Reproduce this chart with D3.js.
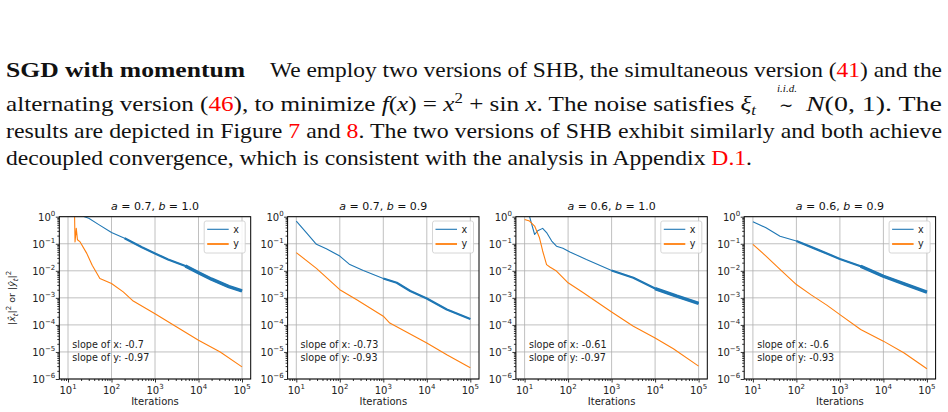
<!DOCTYPE html>
<html><head><meta charset="utf-8">
<script src="https://cdn.jsdelivr.net/npm/d3@7"></script>
<style>body{margin:0;background:#fff} svg{display:block}</style>
</head><body>
<svg id="fig" width="948" height="412"></svg>
<script>
// ---------------- data ----------------
const paramA = ["0.7", "0.7", "0.6", "0.6"];
const paramB = ["1.0", "0.9", "1.0", "0.9"];
const slopeX = ["-0.7", "-0.73", "-0.61", "-0.6"];
const slopeY = ["-0.97", "-0.93", "-0.97", "-0.93"];
const xTickExps = [1, 2, 3, 4, 5];
const yTickExps = [0, -1, -2, -3, -4, -5, -6];

const iterX1 = [10, 24, 30, 50, 100, 200, 500, 1000, 2000, 5000, 10000, 20000, 50000, 100000];
const valX1  = [2.3, 1.0, 0.87, 0.52, 0.26, 0.16, 0.074, 0.044, 0.026, 0.015, 0.0085, 0.0049, 0.0026, 0.0018];
const iterY1 = [10, 14, 14.5, 15.5, 16.5, 19, 27, 36, 45, 54, 100, 186, 316, 1000, 3160, 10000, 31600, 100000];
const valY1  = [10, 3.2, 0.117, 0.37, 0.14, 0.117, 0.044, 0.016, 0.0087, 0.0052, 0.0034, 0.00166, 0.00076, 0.00026, 0.000083, 0.000027, 0.00001, 0.0000028];

const iterX2 = [10, 17, 29, 49, 100, 170, 347, 1000, 2040, 4170, 10000, 28800, 100000];
const valX2  = [0.69, 0.26, 0.095, 0.065, 0.035, 0.017, 0.0102, 0.0052, 0.0036, 0.0018, 0.00095, 0.00037, 0.000166];
const iterY2 = [10, 29, 100, 240, 1000, 1410, 10000, 28800, 100000];
const valY2  = [0.047, 0.0123, 0.002, 0.00087, 0.00021, 0.000117, 0.0000214, 0.0000079, 0.0000026];

const iterX3 = [10, 13, 17, 20, 26, 32, 42, 54, 76, 110, 263, 1000, 3160, 10000, 31600, 100000];
const valX3  = [3.2, 1.0, 0.22, 0.3, 0.37, 0.26, 0.126, 0.081, 0.068, 0.05, 0.026, 0.0102, 0.0055, 0.0022, 0.00115, 0.00063];
const iterY3 = [10, 13, 17, 22, 26, 32, 38, 54, 100, 224, 1000, 3160, 10000, 26300, 100000];
const valY3  = [0.79, 0.69, 0.45, 0.166, 0.054, 0.017, 0.0138, 0.0098, 0.0036, 0.00155, 0.0003, 0.000089, 0.000033, 0.0000132, 0.000003];

const iterX4 = [10, 20, 42, 100, 295, 1000, 3000, 10000, 30000, 100000];
const valX4  = [0.65, 0.39, 0.19, 0.126, 0.062, 0.0275, 0.0148, 0.0063, 0.0033, 0.00162];
const iterY4 = [10, 20, 42, 100, 214, 500, 1000, 3000, 10000, 30000, 100000];
const valY4  = [0.095, 0.035, 0.0112, 0.0031, 0.00132, 0.00054, 0.00024, 0.0000676, 0.0000251, 0.0000091, 0.0000024];

const panelsX = [[iterX1, valX1], [iterX2, valX2], [iterX3, valX3], [iterX4, valX4]];
const panelsY = [[iterY1, valY1], [iterY2, valY2], [iterY3, valY3], [iterY4, valY4]];

// ---------------- styles / layout ----------------
const BLUE = "#1f77b4", ORANGE = "#ff7f0e", RED = "#ff0000";
const FONT = "DejaVu Sans";
const SERIF = "Liberation Serif";
const left0 = 59.3, pitch = 228.3, pw = 191.4, TOP = 216.7, ph = 162.3;
const bandA = [200, 500, 300, 100];
const bandB = [3000, 1e9, 5000, 3000];

const svg = d3.select("#fig");

function rich(sel, parts) {
  let cur = 0;
  parts.forEach(p => {
    const shift = p.shift || 0;
    const ts = sel.append("tspan").text(p.t);
    if (shift !== cur) { ts.attr("dy", shift - cur); cur = shift; }
    if (p.size) ts.attr("font-size", p.size);
    if (p.italic) ts.attr("font-style", "italic");
    if (p.bold) ts.attr("font-weight", "bold");
    if (p.fill) ts.attr("fill", p.fill);
  });
  return sel;
}

// ---------------- paragraph ----------------
const P = svg.append("g").attr("font-family", SERIF).attr("font-size", 21).attr("fill", "#111");
function line(x, y, len, parts) {
  const t = P.append("text").attr("x", x).attr("y", y);
  if (len) t.attr("textLength", len).attr("lengthAdjust", "spacingAndGlyphs");
  rich(t, parts);
  return t;
}
line(6, 77, 239, [{t: "SGD with momentum", bold: true}]);
line(270, 77, 672, [{t: "We employ two versions of SHB, the simultaneous version ("}, {t: "41", fill: RED}, {t: ") and the"}]);
line(6, 111, 750, [
  {t: "alternating version ("}, {t: "46", fill: RED}, {t: "), to minimize "},
  {t: "f", italic: true}, {t: "("}, {t: "x", italic: true}, {t: ") = "}, {t: "x", italic: true},
  {t: "2", size: 14, shift: -8}, {t: " + sin "}, {t: "x", italic: true},
  {t: ".  The noise satisfies "}, {t: "ξ", italic: true}, {t: "t", italic: true, size: 14, shift: 4}
]);
P.append("text").attr("x", 786).attr("y", 111).attr("text-anchor", "middle").attr("font-size", 17).text("∼");
P.append("text").attr("x", 787).attr("y", 92).attr("text-anchor", "middle").attr("font-size", 11)
  .attr("font-style", "italic").text("i.i.d.");
line(806, 111, 136, [{t: "N", italic: true}, {t: "(0, 1).  The"}]);
line(6, 138, 936, [
  {t: "results are depicted in Figure "}, {t: "7", fill: RED}, {t: " and "}, {t: "8", fill: RED},
  {t: ". The two versions of SHB exhibit similarly and both achieve"}
]);
line(6, 165, 746, [
  {t: "decoupled convergence, which is consistent with the analysis in Appendix "},
  {t: "D.1", fill: RED}, {t: "."}
]);

// ---------------- panels ----------------
const minorX = [];
for (let k = 0; k <= 5; k++) for (let m = 2; m <= 9; m++) {
  const v = m * Math.pow(10, k);
  if (v > Math.pow(10, 0.8) && v < Math.pow(10, 5.2)) minorX.push(v);
}
const minorY = [];
for (let k = -6; k < 0; k++) for (let m = 2; m <= 9; m++) minorY.push(m * Math.pow(10, k));

for (let i = 0; i < 4; i++) {
  const L = left0 + i * pitch;
  const x = d3.scaleLog().domain([Math.pow(10, 0.8), Math.pow(10, 5.2)]).range([L, L + pw]);
  const y = d3.scaleLog().domain([1e-6, 1]).range([TOP + ph, TOP]);
  const g = svg.append("g").attr("font-family", FONT);

  g.append("g").selectAll("line").data(xTickExps).join("line")
    .attr("x1", d => x(Math.pow(10, d))).attr("x2", d => x(Math.pow(10, d)))
    .attr("y1", TOP).attr("y2", TOP + ph).attr("stroke", "#b0b0b0").attr("stroke-width", 0.8);
  g.append("g").selectAll("line").data(yTickExps).join("line")
    .attr("y1", d => y(Math.pow(10, d))).attr("y2", d => y(Math.pow(10, d)))
    .attr("x1", L).attr("x2", L + pw).attr("stroke", "#b0b0b0").attr("stroke-width", 0.8);

  const cid = "clip" + i;
  svg.append("clipPath").attr("id", cid).append("rect")
    .attr("x", L).attr("y", TOP).attr("width", pw).attr("height", ph);
  const lines = g.append("g").attr("clip-path", `url(#${cid})`);
  const gen = d3.line().x(d => x(d[0])).y(d => y(d[1]));

  const [tx, vx] = panelsX[i];
  const ptsX = tx.map((t, j) => [t, vx[j]]);
  const [ty, vy] = panelsY[i];
  const ptsY = ty.map((t, j) => [t, vy[j]]);

  lines.append("path").attr("d", gen(ptsX)).attr("fill", "none").attr("stroke", BLUE)
    .attr("stroke-width", 1.1).attr("stroke-linejoin", "round");
  const pa = ptsX.filter(d => d[0] >= bandA[i]);
  if (pa.length > 1) lines.append("path").attr("d", gen(pa)).attr("fill", "none").attr("stroke", BLUE)
    .attr("stroke-width", 2.2).attr("stroke-linejoin", "round");
  const pb = ptsX.filter(d => d[0] >= bandB[i]);
  if (pb.length > 1) lines.append("path").attr("d", gen(pb)).attr("fill", "none").attr("stroke", BLUE)
    .attr("stroke-width", 3.4).attr("stroke-linejoin", "round");
  lines.append("path").attr("d", gen(ptsY)).attr("fill", "none").attr("stroke", ORANGE)
    .attr("stroke-width", 1.1).attr("stroke-linejoin", "round");

  const styleAxis = s => { s.select(".domain").remove(); s.selectAll("line").attr("stroke", "#000").attr("stroke-width", 0.8); s.selectAll("text").remove(); };
  g.append("g").attr("transform", `translate(0,${TOP + ph})`)
    .call(d3.axisBottom(x).tickValues(xTickExps.map(e => Math.pow(10, e))).tickSize(3.5).tickFormat("")).call(styleAxis);
  g.append("g").attr("transform", `translate(0,${TOP + ph})`)
    .call(d3.axisBottom(x).tickValues(minorX).tickSize(2).tickFormat("")).call(styleAxis);
  g.append("g").attr("transform", `translate(${L},0)`)
    .call(d3.axisLeft(y).tickValues(yTickExps.map(e => Math.pow(10, e))).tickSize(3.5).tickFormat("")).call(styleAxis);
  g.append("g").attr("transform", `translate(${L},0)`)
    .call(d3.axisLeft(y).tickValues(minorY).tickSize(2).tickFormat("")).call(styleAxis);

  g.append("rect").attr("x", L).attr("y", TOP).attr("width", pw).attr("height", ph)
    .attr("fill", "none").attr("stroke", "#000").attr("stroke-width", 1);

  xTickExps.forEach(e => {
    const t = g.append("text").attr("x", x(Math.pow(10, e))).attr("y", TOP + ph + 15.3)
      .attr("text-anchor", "middle").attr("font-size", 10).attr("fill", "#222");
    rich(t, [{t: "10"}, {t: String(e), size: 7, shift: -5}]);
  });
  yTickExps.forEach(e => {
    const t = g.append("text").attr("x", L - 4).attr("y", y(Math.pow(10, e)) + 3.8)
      .attr("text-anchor", "end").attr("font-size", 10).attr("fill", "#222");
    rich(t, [{t: "10"}, {t: String(e).replace("-", "\u2212"), size: 7, shift: -5}]);
  });

  g.append("text").attr("x", L + pw / 2).attr("y", 404.5).attr("text-anchor", "middle")
    .attr("font-size", 10).attr("fill", "#222").text("Iterations");

  const tt = g.append("text").attr("x", L + pw / 2).attr("y", 210).attr("text-anchor", "middle")
    .attr("font-size", 11).attr("fill", "#111");
  rich(tt, [{t: "a", italic: true}, {t: " = " + paramA[i] + ", "}, {t: "b", italic: true}, {t: " = " + paramB[i]}]);

  g.append("text").attr("x", L + 13).attr("y", 348).attr("font-size", 9.6).attr("fill", "#222")
    .text("slope of x: " + slopeX[i]);
  g.append("text").attr("x", L + 13).attr("y", 361).attr("font-size", 9.6).attr("fill", "#222")
    .text("slope of y: " + slopeY[i]);

  const lx = L + pw - 5.5 - 41, ly = TOP + 4.3;
  g.append("rect").attr("x", lx).attr("y", ly).attr("width", 41).attr("height", 32).attr("rx", 2)
    .attr("fill", "#fff").attr("fill-opacity", 0.85).attr("stroke", "#cccccc").attr("stroke-width", 0.8);
  [["x", BLUE, 1.1], ["y", ORANGE, 1.8]].forEach((d, j) => {
    const yy = ly + 8.3 + j * 14.7;
    g.append("line").attr("x1", lx + 3).attr("x2", lx + 24.5).attr("y1", yy).attr("y2", yy)
      .attr("stroke", d[1]).attr("stroke-width", d[2]);
    g.append("text").attr("x", lx + 29).attr("y", yy + 3.4).attr("font-size", 9.6).attr("fill", "#222").text(d[0]);
  });
}

const yl = svg.append("text").attr("font-family", FONT).attr("font-size", 9.5).attr("fill", "#222")
  .attr("text-anchor", "middle").attr("transform", `translate(15,${TOP + ph / 2}) rotate(-90)`);
rich(yl, [
  {t: "|"}, {t: "x\u0302", italic: true}, {t: "t", italic: true, size: 7, shift: 2.5}, {t: "|"},
  {t: "2", size: 7, shift: -4}, {t: " or |"}, {t: "y\u0302", italic: true}, {t: "t", italic: true, size: 7, shift: 2.5},
  {t: "|"}, {t: "2", size: 7, shift: -4}
]);
</script>
</body></html>
